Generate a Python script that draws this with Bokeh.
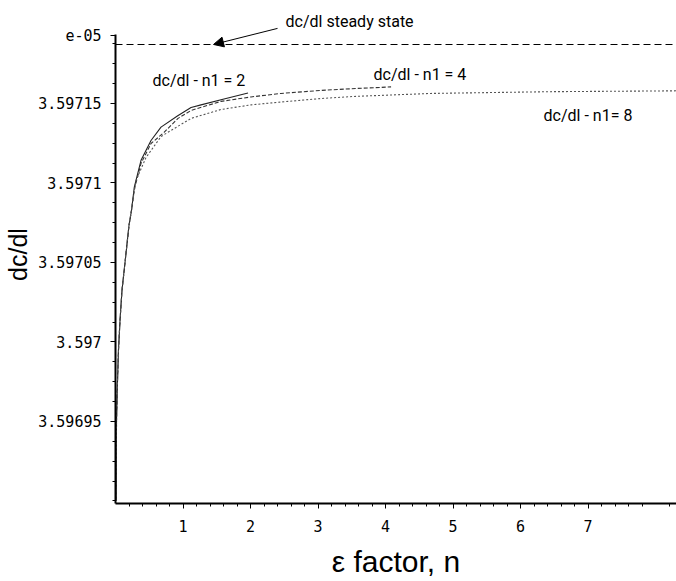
from bokeh.plotting import figure
from bokeh.models import Range1d, FixedTicker, Label, Arrow, NormalHead, Span
from bokeh.embed import file_html
from bokeh.resources import INLINE
import numpy as np

# ---- data ----
x_n1_2 = [0.01, 0.015, 0.03, 0.044, 0.067, 0.096, 0.141, 0.200, 0.237,
          0.2785, 0.378, 0.526, 0.674, 0.922, 1.119, 1.267, 1.607, 1.963]
y_n1_2 = [3.5969003, 3.5969506, 3.5969758, 3.5969947, 3.5970135, 3.5970324,
          3.5970500, 3.5970733, 3.5970827,
          3.5970974, 3.5971142, 3.5971267, 3.5971351, 3.5971423, 3.5971475,
          3.5971491, 3.5971528, 3.5971566]

x_n1_4 = [0.01, 0.015, 0.03, 0.044, 0.067, 0.096, 0.141, 0.200, 0.237,
          0.2785, 0.378, 0.526, 0.719, 0.926, 1.119, 1.563, 2.007, 2.452,
          3.044, 3.563, 4.082]
y_n1_4 = [3.5969003, 3.5969506, 3.5969758, 3.5969947, 3.5970135, 3.5970324,
          3.5970500, 3.5970733, 3.5970827,
          3.5970959, 3.5971123, 3.5971248, 3.5971318, 3.5971406, 3.5971456,
          3.5971513, 3.5971541, 3.5971563, 3.5971582, 3.5971594, 3.5971604]

x_n1_8 = [0.01, 0.015, 0.03, 0.044, 0.067, 0.096, 0.141, 0.200, 0.237,
          0.274, 0.304, 0.452, 0.674, 1.119, 1.563, 2.007, 2.452, 3.044,
          3.533, 4.674, 6.452, 8.2, 8.4]
y_n1_8 = [3.5969003, 3.5969506, 3.5969758, 3.5969947, 3.5970135, 3.5970324,
          3.5970500, 3.5970733, 3.5970827,
          3.5970940, 3.5971016, 3.5971160, 3.5971292, 3.5971406, 3.5971462,
          3.5971491, 3.5971509, 3.5971531, 3.5971544, 3.5971563, 3.5971574,
          3.5971579, 3.5971580]

steady_state = 3.5971871

x_ticks = [1, 2, 3, 4, 5, 6, 7]
y_ticks = [3.59695, 3.59700, 3.59705, 3.59710, 3.59715, 3.597193]
y_tick_labels = ["3.59695", "3.597", "3.59705", "3.5971", "3.59715", "e-05"]

ANN = "Roboto"
MONO = "DejaVu Sans Mono"

p = figure(width=676, height=580, output_backend="svg", toolbar_location=None,
           x_range=Range1d(0, 8.31), y_range=Range1d(3.5968984, 3.5972116),
           min_border_left=115, min_border_top=5, min_border_right=0,
           min_border_bottom=77)
p.outline_line_color = None
p.grid.visible = False
p.background_fill_color = "white"
p.border_fill_color = "white"

# curves
p.line(x_n1_2, y_n1_2, line_color="#222222", line_width=1.1)
p.line(x_n1_4, y_n1_4, line_color="#333333", line_width=1.1, line_dash="4 2")
p.line(x_n1_8, y_n1_8, line_color="#555555", line_width=1.1, line_dash="2 2")

p.add_layout(Span(location=steady_state, dimension="width", line_color="black",
                  line_width=1.1, line_dash="7 4"))

# axes
minor_x = [v for v in np.arange(0.2, 8.4, 0.2) if abs(v - round(v)) > 1e-6]
p.xaxis.ticker = FixedTicker(ticks=x_ticks, minor_ticks=minor_x)
minor_y = list(np.arange(3.5969, 3.59719, 0.0000125))
p.yaxis.ticker = FixedTicker(ticks=y_ticks, minor_ticks=minor_y)
p.yaxis.major_label_overrides = {t: s for t, s in zip(y_ticks, y_tick_labels)}
p.yaxis.bounds = (3.5968984, 3.5971935)

for ax in (p.xaxis, p.yaxis):
    ax.axis_line_width = 2
    ax.axis_line_color = "black"
    ax.major_tick_line_color = "black"
    ax.minor_tick_line_color = "black"
    ax.major_tick_in = 0
    ax.major_tick_out = 5
    ax.minor_tick_in = 0
    ax.minor_tick_out = 3
    ax.major_label_text_font = MONO
    ax.major_label_text_font_size = "15px"
    ax.major_label_text_color = "black"
    ax.axis_label_text_font_style = "normal"
    ax.axis_label_text_color = "black"

p.xaxis.major_label_standoff = 11
p.yaxis.major_label_standoff = 9
p.xaxis.axis_label = "ε factor, n"
p.xaxis.axis_label_text_font = "Liberation Sans"
p.xaxis.axis_label_text_font_size = "30px"
p.xaxis.axis_label_standoff = 10
p.yaxis.axis_label = "dc/dl"
p.yaxis.axis_label_text_font = "Liberation Sans"
p.yaxis.axis_label_text_font_size = "25px"
p.yaxis.axis_label_standoff = 3

# annotations
def lab(x, y, t, size="16px", align="left"):
    p.add_layout(Label(x=x, y=y, text=t, text_font=ANN, text_font_size=size,
                       text_align=align, text_baseline="middle",
                       text_color="black"))

lab(0.548, 3.5971645, "dc/dl - n1 = 2")
lab(3.822, 3.5971682, "dc/dl - n1 = 4")
lab(6.341, 3.5971425, "dc/dl - n1= 8")
lab(2.519, 3.5972016, "dc/dl steady state")

p.add_layout(Arrow(x_start=2.4, y_start=3.5971972, x_end=1.452, y_end=steady_state,
                   line_color="black", line_width=1,
                   end=NormalHead(size=10, fill_color="black", line_color="black")))

open("out.html", "w").write(file_html(p, INLINE))
